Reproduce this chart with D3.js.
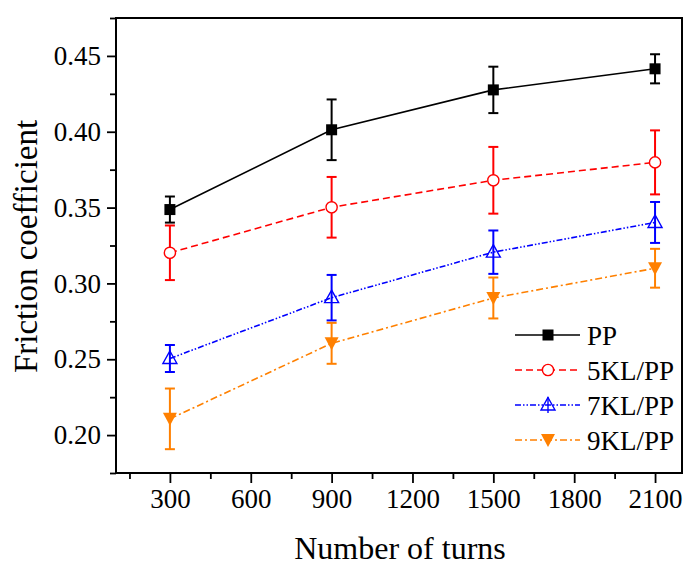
<!DOCTYPE html>
<html>
<head>
<meta charset="utf-8">
<script src="https://cdn.jsdelivr.net/npm/d3@7"></script>
<style>
  html, body { margin: 0; padding: 0; background: #fff; }
  svg { display: block; font-family: "Liberation Serif", "Times New Roman", serif; }
  svg text { font-family: "Liberation Serif", "Times New Roman", serif; }
</style>
</head>
<body>
<svg id="chart" width="684" height="565"></svg>
<script>
// Friction coefficient vs. number of turns for PP and KL/PP composites
const turns = [300, 900, 1500, 2100];
const seriesNames = ["PP", "5KL/PP", "7KL/PP", "9KL/PP"];
const ppValues   = [0.3487, 0.4013, 0.4276, 0.4415];
const ppErrors   = [0.0086, 0.0200, 0.0153, 0.0096];
const kl5Values  = [0.3202, 0.3502, 0.3680, 0.3798];
const kl5Errors  = [0.0180, 0.0200, 0.0220, 0.0211];
const kl7Values  = [0.2505, 0.2906, 0.3206, 0.3402];
const kl7Errors  = [0.0089, 0.0150, 0.0143, 0.0135];
const kl9Values  = [0.2107, 0.2605, 0.2904, 0.3100];
const kl9Errors  = [0.0200, 0.0135, 0.0135, 0.0128];
const xTickValues = [300, 600, 900, 1200, 1500, 1800, 2100];
const yTickValues = [0.20, 0.25, 0.30, 0.35, 0.40, 0.45];

const styles = [
  { color: "#000000", dash: null,            marker: "square" },
  { color: "#FF0000", dash: "7,4",           marker: "circle" },
  { color: "#0000FF", dash: "6,2,1.5,2,1.5,2", marker: "triUp" },
  { color: "#FF8000", dash: "7,3,2,3",       marker: "triDown" }
];

const series = [
  { name: seriesNames[0], values: ppValues,  errors: ppErrors },
  { name: seriesNames[1], values: kl5Values, errors: kl5Errors },
  { name: seriesNames[2], values: kl7Values, errors: kl7Errors },
  { name: seriesNames[3], values: kl9Values, errors: kl9Errors }
];

const svg = d3.select("#chart");
const plotLeft = 116, plotRight = 682, plotTop = 18, plotBottom = 473;

const x = d3.scaleLinear().domain([100, 2200]).range([plotLeft, plotRight]);
const y = d3.scaleLinear().domain([0.175, 0.475]).range([plotBottom, plotTop]);

// Axes: major ticks with labels, minor ticks between
const xAxis = svg.append("g").attr("transform", `translate(0,${plotBottom})`)
  .call(d3.axisBottom(x).tickValues(xTickValues).tickFormat(d3.format("d"))
    .tickSize(10).tickPadding(6));
const xMinor = svg.append("g").attr("transform", `translate(0,${plotBottom})`)
  .call(d3.axisBottom(x).tickValues(d3.range(150, 2200, 300)).tickFormat("").tickSize(6));
const yAxis = svg.append("g").attr("transform", `translate(${plotLeft},0)`)
  .call(d3.axisLeft(y).tickValues(yTickValues).tickFormat(d3.format(".2f"))
    .tickSize(9).tickPadding(6));
const yMinor = svg.append("g").attr("transform", `translate(${plotLeft},0)`)
  .call(d3.axisLeft(y).tickValues([0.175, 0.225, 0.275, 0.325, 0.375, 0.425, 0.475]).tickFormat("").tickSize(6));

[xAxis, xMinor, yAxis, yMinor].forEach(g => {
  g.attr("font-family", "Liberation Serif").attr("font-size", 27);
  g.select(".domain").remove();
  g.selectAll(".tick line").attr("stroke", "#000").attr("stroke-width", 1.8);
  g.selectAll(".tick text").attr("fill", "#000");
});

// Frame
svg.append("rect")
  .attr("x", plotLeft).attr("y", plotTop)
  .attr("width", plotRight - plotLeft).attr("height", plotBottom - plotTop)
  .attr("fill", "none").attr("stroke", "#000").attr("stroke-width", 2);

// Axis titles
svg.append("text")
  .attr("x", (plotLeft + plotRight) / 2 + 1).attr("y", 559)
  .attr("text-anchor", "middle").style("font-size", "32px")
  .text("Number of turns");
svg.append("text")
  .attr("transform", `translate(37,${(plotTop + plotBottom) / 2 + 1}) rotate(-90)`)
  .attr("text-anchor", "middle").style("font-size", "33px")
  .text("Friction coefficient");

function drawMarker(g, type, color, cx, cy) {
  if (type === "square") {
    g.append("rect").attr("x", cx - 5.5).attr("y", cy - 5.5)
      .attr("width", 11).attr("height", 11).attr("fill", color);
  } else if (type === "circle") {
    g.append("circle").attr("cx", cx).attr("cy", cy).attr("r", 5.6)
      .attr("fill", "#fff").attr("stroke", color).attr("stroke-width", 1.4);
  } else if (type === "triUp") {
    g.append("path")
      .attr("d", `M${cx},${cy - 7.5} L${cx + 7},${cy + 5} L${cx - 7},${cy + 5} Z`)
      .attr("fill", "none").attr("stroke", color).attr("stroke-width", 1.4);
  } else if (type === "triDown") {
    g.append("path")
      .attr("d", `M${cx - 7},${cy - 6} L${cx + 7},${cy - 6} L${cx},${cy + 7} Z`)
      .attr("fill", color);
  }
}

const line = d3.line().x(d => x(d[0])).y(d => y(d[1]));

series.forEach((s, i) => {
  const st = styles[i];
  const g = svg.append("g");
  const pts = turns.map((t, j) => [t, s.values[j], s.errors[j]]);

  // error bars
  pts.forEach(p => {
    const cx = x(p[0]);
    const y1 = y(p[1] + p[2]), y2 = y(p[1] - p[2]);
    g.append("line").attr("x1", cx).attr("x2", cx).attr("y1", y1).attr("y2", y2)
      .attr("stroke", st.color).attr("stroke-width", 2);
    [y1, y2].forEach(yy => g.append("line")
      .attr("x1", cx - 5).attr("x2", cx + 5).attr("y1", yy).attr("y2", yy)
      .attr("stroke", st.color).attr("stroke-width", 2));
  });

  // connecting line
  g.append("path").datum(pts).attr("d", line)
    .attr("fill", "none").attr("stroke", st.color).attr("stroke-width", 1.6)
    .attr("stroke-dasharray", st.dash);

  // markers
  pts.forEach(p => drawMarker(g, st.marker, st.color, x(p[0]), y(p[1])));
});

// Legend
const legendY = [335, 370, 405, 440];
series.forEach((s, i) => {
  const st = styles[i];
  const g = svg.append("g");
  const ly = legendY[i];
  g.append("line").attr("x1", 515).attr("x2", 580).attr("y1", ly).attr("y2", ly)
    .attr("stroke", st.color).attr("stroke-width", 1.6).attr("stroke-dasharray", st.dash);
  if (st.marker === "triUp") {
    g.append("line").attr("x1", 548).attr("x2", 548).attr("y1", ly - 8).attr("y2", ly + 8)
      .attr("stroke", st.color).attr("stroke-width", 1.4);
  }
  drawMarker(g, st.marker, st.color, 548, ly);
  g.append("text").attr("x", 587).attr("y", ly + 9.5)
    .style("font-size", "27px").text(s.name);
});
</script>
</body>
</html>
